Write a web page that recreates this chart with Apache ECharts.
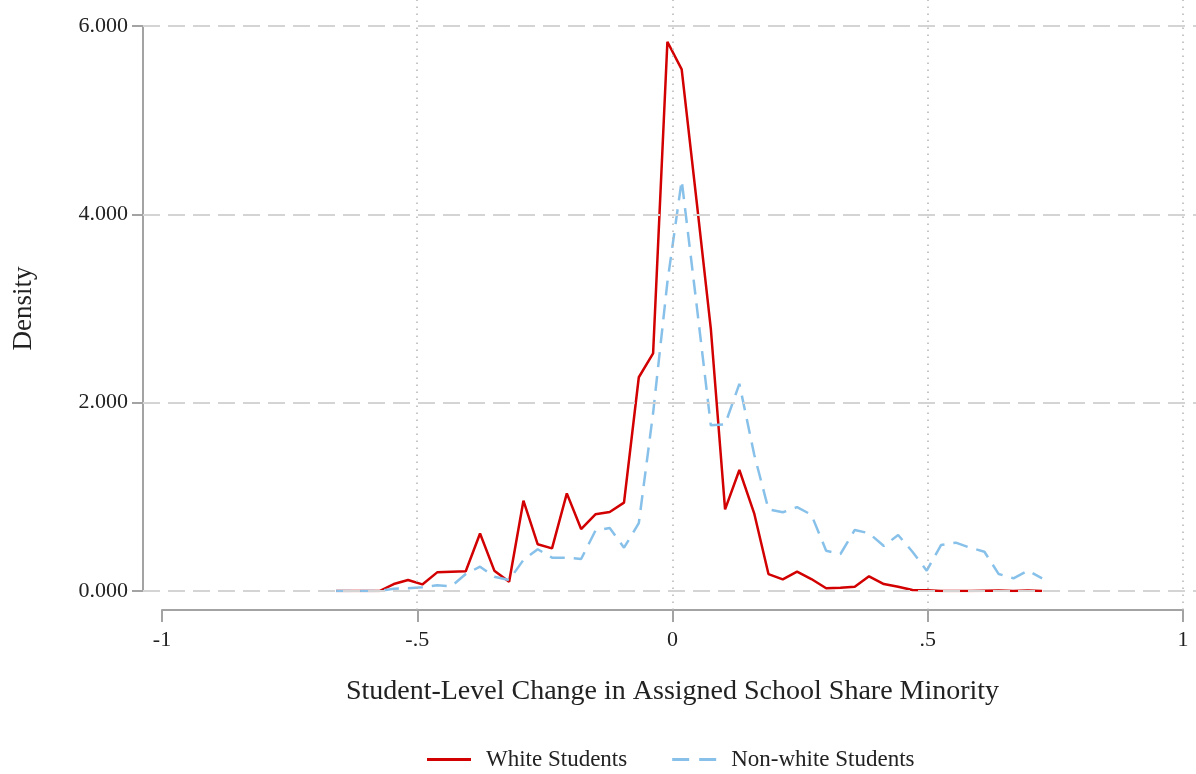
<!DOCTYPE html>
<html>
<head>
<meta charset="utf-8">
<script src="https://cdn.jsdelivr.net/npm/echarts@6/dist/echarts.min.js"></script>
<style>
html,body{margin:0;padding:0;background:#fff;}
#chart{width:1196px;height:774px;}
</style>
</head>
<body>
<div id="chart"></div>
<script>
// Bin midpoints (x)
const xValues = [-0.659, -0.631, -0.603, -0.574, -0.546, -0.518, -0.490, -0.461, -0.433, -0.405,
  -0.377, -0.349, -0.320, -0.292, -0.264, -0.236, -0.207, -0.179, -0.151, -0.123,
  -0.095, -0.066, -0.038, -0.010, 0.018, 0.047, 0.075, 0.103, 0.131, 0.160,
  0.188, 0.216, 0.244, 0.272, 0.301, 0.329, 0.357, 0.385, 0.414, 0.442,
  0.470, 0.498, 0.526, 0.555, 0.583, 0.611, 0.639, 0.668, 0.696, 0.724];

const whiteDensity = [0, 0, 0, 0, 0.074, 0.117, 0.070, 0.198, 0.205, 0.210,
  0.610, 0.216, 0.099, 0.959, 0.496, 0.453, 1.037, 0.658, 0.814, 0.839,
  0.938, 2.270, 2.524, 5.833, 5.540, 4.150, 2.790, 0.867, 1.285, 0.825,
  0.180, 0.124, 0.205, 0.127, 0.029, 0.035, 0.046, 0.156, 0.074, 0.046,
  0.010, 0.007, 0, 0, 0, 0.003, 0.006, 0, 0.004, 0];

const nonWhiteDensity = [0, 0, 0, 0, 0.025, 0.030, 0.040, 0.060, 0.050, 0.180,
  0.258, 0.152, 0.117, 0.330, 0.443, 0.354, 0.354, 0.340, 0.640, 0.670,
  0.460, 0.720, 1.890, 3.280, 4.360, 3.050, 1.760, 1.770, 2.200, 1.450,
  0.868, 0.836, 0.890, 0.810, 0.428, 0.393, 0.648, 0.613, 0.478, 0.595,
  0.417, 0.216, 0.488, 0.513, 0.460, 0.417, 0.180, 0.135, 0.216, 0.135];

const seriesNames = ['White Students', 'Non-white Students'];
const yTickValues = [0, 2, 4, 6];
const xGridValues = [-0.5, 0, 0.5, 1];

const FONT = '"Liberation Serif", "DejaVu Serif", serif';
const RED = '#d20000';
const BLUE = '#87c1ea';
const pairs = ys => xValues.map((x, i) => [x, ys[i]]);

const chart = echarts.init(document.getElementById('chart'), null, {renderer: 'canvas'});
chart.setOption({
  backgroundColor: '#ffffff',
  animation: false,
  textStyle: {fontFamily: FONT},
  grid: [
    {left: 162, right: 13, top: 26, bottom: 183, containLabel: false},
    {left: 143, right: 0, top: 0, bottom: 164, containLabel: false}
  ],
  legend: {
    data: [
      {name: seriesNames[0], icon: 'path://M0,0H44V3H0Z', itemStyle: {color: RED}},
      {name: seriesNames[1], icon: 'path://M0,0H17V3H0Z M27,0H44V3H27Z', itemStyle: {color: BLUE}}
    ],
    left: 427,
    top: 748,
    padding: 0,
    itemWidth: 44,
    itemHeight: 3,
    itemGap: 45,
    textStyle: {fontFamily: FONT, fontSize: 23, color: '#222', padding: [0, 0, 0, 10]}
  },
  xAxis: [
    {
      type: 'value', gridIndex: 0, min: -1, max: 1, interval: 0.5, offset: 19,
      name: 'Student-Level Change in Assigned School Share Minority',
      nameLocation: 'middle', nameGap: 68,
      nameTextStyle: {fontFamily: FONT, fontSize: 28, color: '#222'},
      axisLine: {show: true, onZero: false, lineStyle: {color: '#a3a3a3', width: 2}},
      axisTick: {show: true, length: 12, lineStyle: {color: '#a3a3a3', width: 2}},
      axisLabel: {fontFamily: FONT, fontSize: 22, color: '#222', margin: 19,
        formatter: v => (v === 0 ? '0' : String(v).replace('0.', '.'))},
      splitLine: {show: false}
    },
    {type: 'value', gridIndex: 1, min: -1.03722, max: 1.02547, show: false}
  ],
  yAxis: [
    {
      type: 'value', gridIndex: 0, min: 0, max: 6, interval: 2, offset: 19,
      name: 'Density', nameLocation: 'middle', nameGap: 106, nameRotate: 90,
      nameTextStyle: {fontFamily: FONT, fontSize: 27, color: '#222'},
      axisLine: {show: true, onZero: false, lineStyle: {color: '#a3a3a3', width: 2}},
      axisTick: {show: true, length: 11, lineStyle: {color: '#a3a3a3', width: 2}},
      axisLabel: {fontFamily: FONT, fontSize: 22, color: '#222', margin: 15,
        formatter: v => v.toFixed(3)},
      splitLine: {show: false}
    },
    {type: 'value', gridIndex: 1, min: -0.20177, max: 6.27611, show: false}
  ],
  series: [
    {
      type: 'line', xAxisIndex: 1, yAxisIndex: 1, data: [], silent: true, z: 1,
      markLine: {
        silent: true, symbol: ['none', 'none'], label: {show: false}, animation: false,
        data: [
          ...yTickValues.map(v => ({yAxis: v, lineStyle: {type: [17, 8], color: '#d4d4d4', width: 2}})),
          ...xGridValues.map(v => ({xAxis: v, lineStyle: {type: [1.5, 5.5], color: '#b4b4b4', width: 1.5}}))
        ]
      }
    },
    {
      name: seriesNames[0], type: 'line', xAxisIndex: 0, yAxisIndex: 0,
      data: pairs(whiteDensity), symbol: 'none', z: 3,
      lineStyle: {color: RED, width: 2.5}, itemStyle: {color: RED}
    },
    {
      name: seriesNames[1], type: 'line', xAxisIndex: 0, yAxisIndex: 0,
      data: pairs(nonWhiteDensity), symbol: 'none', z: 4,
      lineStyle: {color: BLUE, width: 2.5, type: [15, 9]}, itemStyle: {color: BLUE}
    }
  ]
});
</script>
</body>
</html>
